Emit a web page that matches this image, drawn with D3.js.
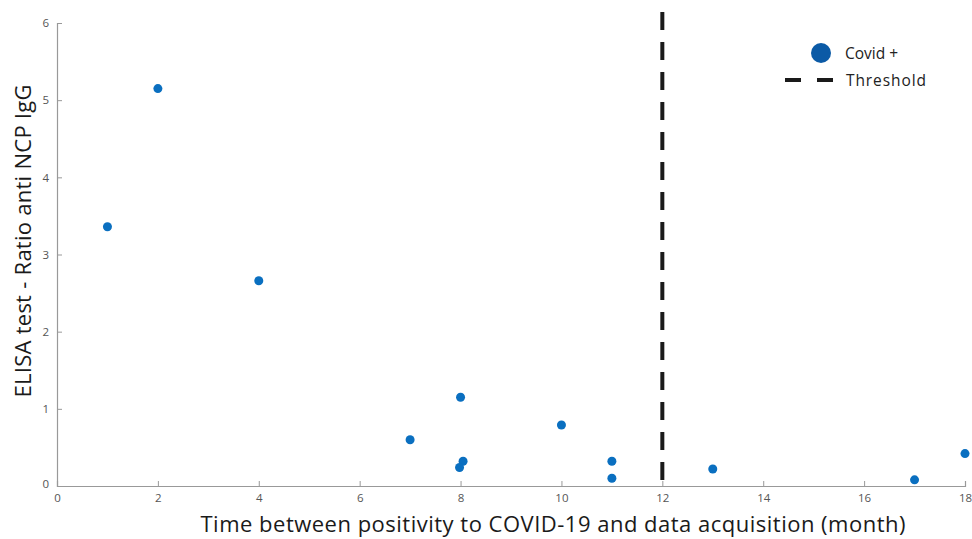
<!DOCTYPE html>
<html>
<head>
<meta charset="utf-8">
<script src="https://cdn.jsdelivr.net/npm/d3@7"></script>
<style>
  body { margin: 0; background: white; }
  text { font-family: "Open Sans", "Noto Sans", sans-serif; }
</style>
</head>
<body>
<div id="chart"></div>
<script>
// months since positive test, ELISA ratio
const months = [1, 2, 4, 7, 8, 8.05, 7.98, 10, 11, 11, 13, 17, 18];
const ratios = [3.36, 5.15, 2.66, 0.6, 1.15, 0.32, 0.24, 0.79, 0.32, 0.1, 0.22, 0.08, 0.42];
const xTicks = [0, 2, 4, 6, 8, 10, 12, 14, 16, 18];
const yTicks = [0, 1, 2, 3, 4, 5, 6];
const threshold = 12;

const width = 972, height = 539;
const margin = { top: 23, right: 7, bottom: 53, left: 57 };

const svg = d3.select('#chart').append('svg')
    .attr('width', width)
    .attr('height', height);

const x = d3.scaleLinear().domain([0, 18]).range([margin.left, width - margin.right]);
const y = d3.scaleLinear().domain([0, 6]).range([height - margin.bottom, margin.top]);

// axes, matlab style (ticks inside)
const xAxis = svg.append('g')
    .attr('transform', `translate(0,${y(0)})`)
    .call(d3.axisBottom(x).tickValues(xTicks).tickFormat(d3.format('d')).tickSize(-5).tickPadding(8));
const yAxis = svg.append('g')
    .attr('transform', `translate(${x(0)},0)`)
    .call(d3.axisLeft(y).tickValues(yTicks).tickFormat(d3.format('d')).tickSize(-5).tickPadding(8));

[xAxis, yAxis].forEach(a => {
    a.select('.domain').attr('stroke', '#999').attr('stroke-width', 1.2);
    a.selectAll('.tick line').attr('stroke', '#999');
    a.selectAll('.tick text')
        .attr('fill', '#555')
        .style('font-size', '11.5px');
});
// the y zero label sits a bit lower than the rest
yAxis.selectAll('.tick text').filter(d => d === 0).attr('dy', '0.1em');

// threshold
svg.append('line')
    .attr('x1', x(threshold)).attr('x2', x(threshold))
    .attr('y1', 12).attr('y2', y(0))
    .attr('stroke', '#1a1a1a')
    .attr('stroke-width', 4)
    .attr('stroke-dasharray', '18,12');

// points
svg.selectAll('circle.pt')
    .data(months.map((m, i) => ({ m: m, r: ratios[i] })))
    .enter()
    .append('circle')
    .attr('class', 'pt')
    .attr('cx', d => x(d.m))
    .attr('cy', d => y(d.r))
    .attr('r', 4.5)
    .style('fill', '#0a6fc0');

// legend
const legend = svg.append('g');
legend.append('circle')
    .attr('cx', 821).attr('cy', 53).attr('r', 10)
    .style('fill', '#0b5aa6');
legend.append('text')
    .attr('x', 845).attr('y', 59)
    .style('font-size', '15.5px')
    .attr('fill', '#222')
    .text('Covid +');
legend.append('line')
    .attr('x1', 785).attr('x2', 833)
    .attr('y1', 80).attr('y2', 80)
    .attr('stroke', '#1a1a1a')
    .attr('stroke-width', 4)
    .attr('stroke-dasharray', '16,16');
legend.append('text')
    .attr('x', 846).attr('y', 86)
    .style('font-size', '15.5px')
    .attr('fill', '#222')
    .attr('textLength', 80)
    .text('Threshold');

// axis titles
svg.append('text')
    .attr('x', 553).attr('y', 532)
    .attr('text-anchor', 'middle')
    .style('font-size', '22px')
    .attr('fill', '#1a1a1a')
    .attr('textLength', 705)
    .text('Time between positivity to COVID-19 and data acquisition (month)');

svg.append('text')
    .attr('transform', 'translate(31,241) rotate(-90)')
    .attr('text-anchor', 'middle')
    .style('font-size', '22px')
    .attr('fill', '#1a1a1a')
    .attr('textLength', 313)
    .text('ELISA test - Ratio anti NCP IgG');
</script>
</body>
</html>
